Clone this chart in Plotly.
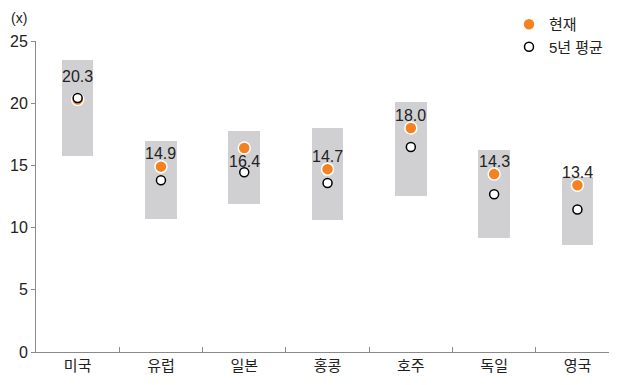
import plotly.graph_objects as go

categories = ["미국", "유럽", "일본", "홍콩", "호주", "독일", "영국"]
range_high = [23.45, 16.94, 17.77, 17.98, 20.1, 16.2, 14.07]
range_low = [15.73, 10.67, 11.93, 10.64, 12.52, 9.14, 8.63]
current = [20.3, 14.9, 16.4, 14.7, 18.0, 14.3, 13.4]
avg5y = [20.42, 13.8, 14.45, 13.59, 16.48, 12.68, 11.45]
yticks = [0, 5, 10, 15, 20, 25]

FONT = "Liberation Sans, Arial, Noto Sans CJK KR, sans-serif"
TEXT = "#222222"
AXIS = "#8a8a8a"
# label offsets (px) relative to the orange point
label_shift = {"미국": 23, "일본": -14}

# page body has an 8px default margin; figure sized to fit the window
W, H = 609, 377
ML, MT, PW, PH = 28, 33, 581, 311

fig = go.Figure()
fig.add_trace(go.Bar(
    x=categories,
    y=[h - l for h, l in zip(range_high, range_low)],
    base=range_low,
    width=0.38,
    marker=dict(color="#d0d0d2", line=dict(width=0)),
    showlegend=False,
    hoverinfo="skip",
))
fig.add_trace(go.Scatter(
    x=categories, y=current, mode="markers", name="현재",
    marker=dict(size=12, color="#f58220", line=dict(color="white", width=1.5)),
))
fig.add_trace(go.Scatter(
    x=categories, y=avg5y, mode="markers", name="5년 평균",
    marker=dict(size=9, color="white", line=dict(color="black", width=1.5)),
))

for c, v in zip(categories, current):
    fig.add_annotation(
        x=c, y=v, text=f"{v:.1f}", showarrow=False,
        yshift=label_shift.get(c, 13),
        font=dict(family=FONT, size=16, color=TEXT),
    )

fig.add_annotation(
    xref="paper", yref="paper", x=-(ML - 1) / PW, y=1 + (MT - 10) / PH,
    xanchor="left", yanchor="middle",
    text="(x)", showarrow=False, font=dict(family=FONT, size=14, color=TEXT),
)

fig.update_layout(
    width=W, height=H,
    margin=dict(l=ML, r=0, t=MT, b=33, autoexpand=False),
    plot_bgcolor="white", paper_bgcolor="white",
    font=dict(family=FONT, size=15, color=TEXT),
    bargap=0,
    legend=dict(
        xref="container", yref="container",
        x=501 / W, y=1, xanchor="left", yanchor="top",
        bgcolor="rgba(0,0,0,0)", font=dict(size=15, color=TEXT),
        itemwidth=30, tracegroupgap=4,
    ),
    xaxis=dict(
        type="category", range=[-0.5, 6.475],
        showline=True, linecolor=AXIS, linewidth=1,
        ticks="inside", tickson="boundaries", ticklen=5, tickcolor=AXIS,
        showgrid=False, tickfont=dict(size=15, color=TEXT),
    ),
    yaxis=dict(
        range=[0, 25], tickvals=yticks,
        showline=True, linecolor=AXIS, linewidth=1,
        ticks="outside", ticklen=4, tickcolor=AXIS,
        showgrid=False, zeroline=False, tickfont=dict(size=16, color=TEXT),
    ),
)

fig.write_html("out.html")
